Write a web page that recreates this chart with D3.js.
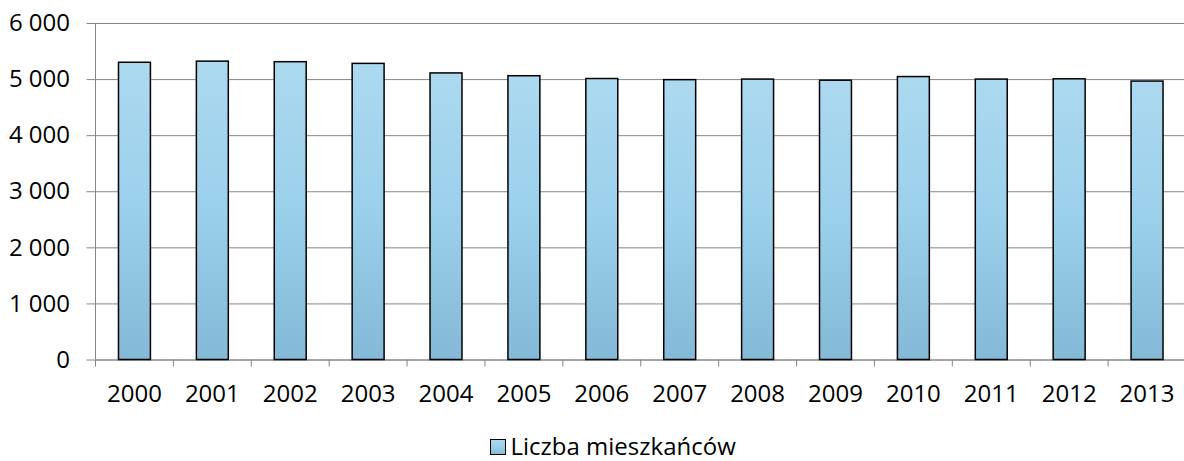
<!DOCTYPE html>
<html>
<head>
<meta charset="utf-8">
<script src="https://cdn.jsdelivr.net/npm/d3@7"></script>
<style>
  body { margin: 0; background: #fff; }
  svg { display: block; font-family: "Open Sans", sans-serif; }
</style>
</head>
<body>
<svg id="chart" width="1184" height="461"></svg>
<script>
const years = ["2000", "2001", "2002", "2003", "2004", "2005", "2006", "2007", "2008", "2009", "2010", "2011", "2012", "2013"]
const residents = [5300, 5320, 5310, 5280, 5110, 5060, 5010, 4990, 5000, 4980, 5045, 5000, 5005, 4965]
const yTicks = [0, 1000, 2000, 3000, 4000, 5000, 6000]
const seriesName = "Liczba mieszkańców"

const svg = d3.select("#chart")
const plotLeft = 95.5, plotRight = 1186, plotTop = 23, plotBottom = 359.5
const fontSize = 24

const fmt = d3.formatLocale({ decimal: ",", thousands: " ", grouping: [3], currency: ["", ""] }).format(",d")

const x = d3.scaleBand().domain(years).range([plotLeft, plotRight]).paddingInner(0.59).paddingOuter(0.295)
const xb = d3.scaleBand().domain(years).range([plotLeft, plotRight])
const y = d3.scaleLinear().domain([0, 6000]).range([plotBottom, plotTop])

// gradient for bars
const grad = svg.append("defs").append("linearGradient")
    .attr("id", "barfill").attr("x1", 0).attr("y1", 0).attr("x2", 0).attr("y2", 1)
grad.append("stop").attr("offset", "0%").attr("stop-color", "#acd9f0")
grad.append("stop").attr("offset", "50%").attr("stop-color", "#9bd0eb")
grad.append("stop").attr("offset", "100%").attr("stop-color", "#84b9d7")

// gridlines + y axis
svg.append("g")
    .attr("transform", `translate(${plotLeft},0)`)
    .call(d3.axisLeft(y).tickValues(yTicks).tickSize(-(plotRight - plotLeft)).tickSizeOuter(0).tickPadding(25.5).tickFormat(fmt))
    .call(g => g.select(".domain").remove())
    .call(g => g.selectAll(".tick line").attr("stroke", "#868686").attr("x1", -9))
    .call(g => g.selectAll(".tick text").attr("fill", "#000").attr("font-size", fontSize).attr("font-family", "Open Sans"))

svg.append("line")
    .attr("x1", plotLeft).attr("x2", plotLeft).attr("y1", plotTop).attr("y2", plotBottom)
    .attr("stroke", "#868686")

// x axis with ticks between categories
svg.append("g")
    .attr("transform", `translate(0,${plotBottom})`)
    .call(d3.axisBottom(x).tickSize(0).tickPadding(25.5).tickSizeOuter(0))
    .call(g => g.select(".domain").attr("stroke", "#868686"))
    .call(g => g.selectAll(".tick text").attr("fill", "#000").attr("font-size", fontSize).attr("font-family", "Open Sans"))

svg.append("g")
    .selectAll("line")
    .data(years)
    .join("line")
    .attr("x1", d => xb(d)).attr("x2", d => xb(d))
    .attr("y1", plotBottom).attr("y2", plotBottom + 7)
    .attr("stroke", "#868686")

// bars
svg.append("g")
    .selectAll("rect")
    .data(years)
    .join("rect")
    .attr("x", d => x(d))
    .attr("y", (d, i) => y(residents[i]))
    .attr("width", x.bandwidth())
    .attr("height", (d, i) => y(0) - y(residents[i]))
    .attr("fill", "url(#barfill)")
    .attr("stroke", "#000")
    .attr("stroke-width", 1.5)

// legend
const legend = svg.append("g").attr("transform", "translate(490.5,439.5)")
legend.append("rect")
    .attr("width", 15).attr("height", 15)
    .attr("fill", "url(#barfill)").attr("stroke", "#000").attr("stroke-width", 1)
legend.append("text")
    .attr("x", 20).attr("y", 15)
    .attr("font-size", fontSize)
    .text(seriesName)
</script>
</body>
</html>
